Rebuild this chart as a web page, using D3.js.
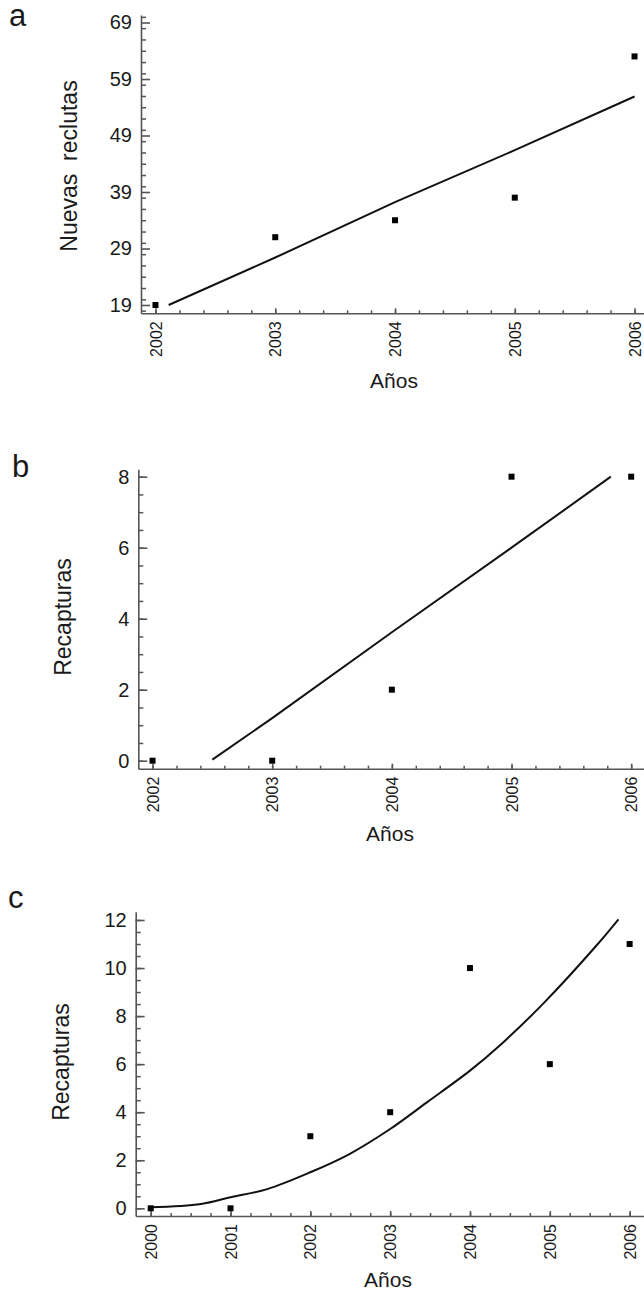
<!DOCTYPE html>
<html><head><meta charset="utf-8">
<script src="https://cdn.jsdelivr.net/npm/d3@7"></script>
<style>
html,body{margin:0;padding:0;background:#fff;}
svg{display:block;}
text{font-family:"Liberation Sans",Arial,sans-serif;fill:#1a1a1a;}
.yr{font-family:"Liberation Sans Narrow","Liberation Sans",Arial,sans-serif;}
</style></head>
<body>
<svg id="chart" width="644" height="1292"></svg>
<script>
// ---- Panel a data ----
const yearsA = [2002, 2003, 2004, 2005, 2006];
const recruitsA = [19, 31, 34, 38, 63];
const fitYearsA = [2002.11, 2003, 2004, 2005, 2006];
const fitA = [19.0, 27.4, 37.2, 46.4, 55.9];
const yTicksA = [19, 29, 39, 49, 59, 69];

// ---- Panel b data ----
const yearsB = [2002, 2003, 2004, 2005, 2006];
const recapB = [0, 0, 2, 8, 8];
const fitYearsB = [2002.5, 2003, 2004, 2005, 2005.83];
const fitB = [0.03, 1.2, 3.62, 6.0, 8.0];
const yTicksB = [0, 2, 4, 6, 8];

// ---- Panel c data ----
const yearsC = [2000, 2001, 2002, 2003, 2004, 2005, 2006];
const recapC = [0, 0, 3, 4, 10, 6, 11];
const fitYearsC = [2000, 2000.63, 2001, 2001.46, 2002, 2002.49, 2003, 2003.46, 2004, 2004.38, 2004.92, 2005.59, 2005.86];
const fitC = [0.04, 0.18, 0.46, 0.8, 1.5, 2.26, 3.3, 4.41, 5.73, 6.8, 8.53, 10.96, 12.03];
const yTicksC = [0, 2, 4, 6, 8, 10, 12];

const panelLetters = ["a", "b", "c"];
const yTitles = ["Nuevas  reclutas", "Recapturas", "Recapturas"];
const xTitle = "Años";

const svg = d3.select("#chart");

const panels = [
  { letter: panelLetters[0], letterPos: [9, 26],
    years: yearsA, vals: recruitsA, fx: fitYearsA, fy: fitA, yTicks: yTicksA,
    xDom: [2001.879, 2006.079], xRange: [141, 644],
    yDom: [17.53, 70.33], yRange: [313.3, 15],
    yMinorStep: 2, xMinorStep: 0.2, curve: d3.curveLinear,
    yTitle: yTitles[0], yTitlePos: [77, 166], xTitlePos: [394, 388] },
  { letter: panelLetters[1], letterPos: [12, 477],
    years: yearsB, vals: recapB, fx: fitYearsB, fy: fitB, yTicks: yTicksB,
    xDom: [2001.881, 2006.107], xRange: [138.3, 644],
    yDom: [-0.225, 8.208], yRange: [768.7, 469.3],
    yMinorStep: 0.5, xMinorStep: 0.2, curve: d3.curveLinear,
    yTitle: yTitles[1], yTitlePos: [71, 617], xTitlePos: [390, 841] },
  { letter: panelLetters[2], letterPos: [8, 908],
    years: yearsC, vals: recapC, fx: fitYearsC, fy: fitC, yTicks: yTicksC,
    xDom: [1999.812, 2006.18], xRange: [135.7, 644],
    yDom: [-0.32, 12.345], yRange: [1216, 911.7],
    yMinorStep: 0.5, xMinorStep: 0.25, curve: d3.curveCatmullRom,
    yTitle: yTitles[2], yTitlePos: [69, 1062], xTitlePos: [388, 1287] }
];

const axisColor = "#555";

panels.forEach(p => {
  const x = d3.scaleLinear().domain(p.xDom).range(p.xRange);
  const y = d3.scaleLinear().domain(p.yDom).range(p.yRange);
  const g = svg.append("g");
  const x0 = p.xRange[0], yBase = p.yRange[0];

  // minor ticks
  const yMin = d3.range(Math.ceil(p.yDom[0] / p.yMinorStep - 1e-9), Math.floor(p.yDom[1] / p.yMinorStep + 1e-9) + 1)
    .map(k => +(k * p.yMinorStep).toFixed(4));
  const xMin = d3.range(Math.ceil(p.xDom[0] / p.xMinorStep - 1e-9), Math.floor(p.xDom[1] / p.xMinorStep + 1e-9) + 1)
    .map(k => +(k * p.xMinorStep).toFixed(4));

  const yMinorAx = d3.axisLeft(y).tickValues(yMin).tickSizeInner(-5).tickSizeOuter(0).tickFormat("");
  g.append("g").attr("transform", `translate(${x0},0)`).call(yMinorAx)
    .call(s => { s.selectAll("line").attr("stroke", axisColor).attr("stroke-width", 1.5);
                 s.select("path").attr("stroke", "none"); });

  const xMinorAx = d3.axisBottom(x).tickValues(xMin).tickSizeInner(-3).tickSizeOuter(0).tickFormat("");
  g.append("g").attr("transform", `translate(0,${yBase})`).call(xMinorAx)
    .call(s => { s.selectAll("line").attr("stroke", axisColor).attr("stroke-width", 1.5);
                 s.select("path").attr("stroke", "none"); });

  // major y axis
  const yAx = d3.axisLeft(y).tickValues(p.yTicks).tickSizeInner(-9).tickSizeOuter(0).tickPadding(9).tickFormat(d3.format("d"));
  g.append("g").attr("transform", `translate(${x0},0)`).call(yAx)
    .call(s => {
      s.selectAll("line,path").attr("stroke", axisColor).attr("stroke-width", 1.6);
      s.selectAll("text").attr("font-size", 20).attr("fill", "#1a1a1a")
        .style("font-family", "'Liberation Sans',Arial,sans-serif");
    });

  // major x axis
  const xAx = d3.axisBottom(x).tickValues(p.years).tickSizeInner(-5).tickSizeOuter(0).tickFormat(d3.format("d"));
  g.append("g").attr("transform", `translate(0,${yBase})`).call(xAx)
    .call(s => {
      s.selectAll("line,path").attr("stroke", axisColor).attr("stroke-width", 1.6);
      s.selectAll("text").attr("class", "yr").attr("font-size", 16).attr("fill", "#1a1a1a")
        .attr("text-anchor", "end").attr("y", 0).attr("dy", "0.35em")
        .attr("transform", "translate(0,8) rotate(-90)")
        .style("font-family", "'Liberation Sans Narrow','Liberation Sans',Arial,sans-serif");
    });

  // fitted line
  const fitData = p.fx.map((v, i) => [v, p.fy[i]]);
  g.append("path").datum(fitData)
    .attr("fill", "none").attr("stroke", "#111").attr("stroke-width", 2)
    .attr("d", d3.line().x(d => x(d[0])).y(d => y(d[1])).curve(p.curve));

  // points
  const pts = p.years.map((v, i) => [v, p.vals[i]]);
  g.selectAll("rect.pt").data(pts).join("rect").attr("class", "pt")
    .attr("x", d => x(d[0]) - 3).attr("y", d => y(d[1]) - 3)
    .attr("width", 6).attr("height", 6).attr("fill", "#000");

  // titles
  g.append("text").attr("transform", `translate(${p.yTitlePos[0]},${p.yTitlePos[1]}) rotate(-90)`)
    .attr("text-anchor", "middle").attr("font-size", 23).style("white-space", "pre")
    .text(p.yTitle);
  g.append("text").attr("x", p.xTitlePos[0]).attr("y", p.xTitlePos[1])
    .attr("text-anchor", "middle").attr("font-size", 21).text(xTitle);
  g.append("text").attr("x", p.letterPos[0]).attr("y", p.letterPos[1])
    .attr("font-size", 31).text(p.letter);
});
</script>
</body></html>
